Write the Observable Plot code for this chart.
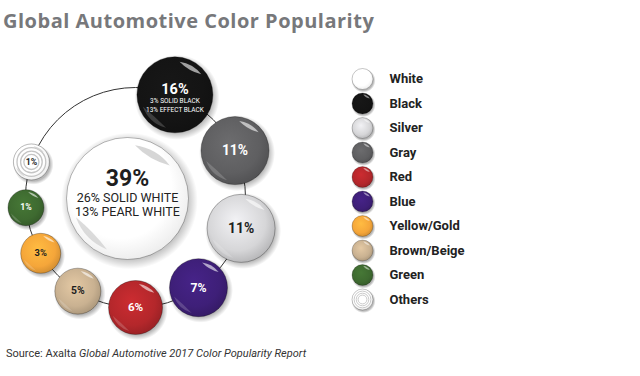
<!DOCTYPE html>
<html><head><meta charset="utf-8">
<script src="https://cdn.jsdelivr.net/npm/d3@7"></script>
<script src="https://cdn.jsdelivr.net/npm/@observablehq/plot@0.6"></script>
<style>
html,body{margin:0;padding:0;background:#fff;}
body{width:640px;height:376px;overflow:hidden;font-family:Roboto,sans-serif;}
#title{height:38px;box-sizing:border-box;padding:11px 0 0 3px;font:700 20px/20px "Open Sans",sans-serif;color:#77787b;white-space:nowrap;letter-spacing:0.5px;}
#chart svg{display:block;}
#cap{margin-top:10px;padding-left:6px;font:400 11px/11px Roboto,sans-serif;color:#333;white-space:nowrap;}
</style></head>
<body>
<div id="title">Global Automotive Color Popularity</div>
<div id="chart"></div>
<div id="cap">Source: Axalta <i>Global Automotive 2017 Color Popularity Report</i></div>
<script>
// ---- data ----
const colorNames = ["White","Black","Silver","Gray","Red","Blue","Yellow/Gold","Brown/Beige","Green","Others"];
const shares = [39,16,11,11,6,7,3,5,1,1];
const ringOrder = ["Black","Gray","Silver","Blue","Red","Brown/Beige","Yellow/Gold","Green","Others"];
const whiteDetail = ["26% SOLID WHITE","13% PEARL WHITE"];
const blackDetail = ["3% SOLID BLACK","13% EFFECT BLACK"];

// ---- styles ----
const palette = ["#ffffff","#141414","#d6d6d8","#5f5f61","#b4272b","#3e1f78","#f5a63a","#c9b191","#3e6a30","#ffffff"];
const lightInk = new Set(["Black","Gray","Red","Blue","Green"]);

// ---- layout ----
const W = 640, H = 300;
const ring = {x: 135, y: 159, R: 110, start: -69, gap: 10};
const radius = d3.scaleLinear().domain([1,3,5,6,7,11,16,39]).range([18,20,23,27,29,34,38,61]);
const legend = {x: 362, y0: 40.5, step: 24.5, r: 10.5, tx: 389};

const share = new Map(colorNames.map((c,i)=>[c, shares[i]]));
let ang = ring.start*Math.PI/180;
const bubbles = [];
ringOrder.forEach((name,k)=>{
  const v = share.get(name), r = radius(v);
  if (k > 0) ang += 2*Math.asin((bubbles[k-1].r + r + ring.gap)/(2*ring.R));
  bubbles.push({name, value: v, r, x: ring.x + ring.R*Math.cos(ang), y: ring.y + ring.R*Math.sin(ang)});
});
const center = {name: "White", value: share.get("White"), r: radius(share.get("White")), x: ring.x - 8, y: ring.y + 1};
const all = [center, ...bubbles];
const blackB = bubbles.find(d=>d.name==="Black");
const legendItems = colorNames.map((name,i)=>({name, value: share.get(name), x: legend.x, y: legend.y0 + i*legend.step}));
const isPale = d => d.name==="White" || d.name==="Others";

// ---- custom symbols ----
const rad = size => Math.sqrt(size/Math.PI);
const scaledCircle = k => ({draw(ctx,size){const r=rad(size)*k; ctx.moveTo(r,0); ctx.arc(0,0,r,0,2*Math.PI);}});
const glint = (a0,a1,outer,inner) => ({draw(ctx,size){
  const r=rad(size), A0=a0*Math.PI/180, A1=a1*Math.PI/180, Am=(A0+A1)/2;
  ctx.moveTo(r*outer*Math.cos(A0), r*outer*Math.sin(A0));
  ctx.arc(0,0,r*outer,A0,A1);
  ctx.quadraticCurveTo(r*inner*Math.cos(Am), r*inner*Math.sin(Am), r*outer*Math.cos(A0), r*outer*Math.sin(A0));
  ctx.closePath();
}});
const rings = {draw(ctx,size){const r=rad(size); for (const k of [0.8,0.6,0.42]) {ctx.moveTo(r*k,0); ctx.arc(0,0,r*k,0,2*Math.PI);}}};

const pos = {x: "x", y: "y"};
const chart = Plot.plot({
  width: W, height: H, margin: 0,
  x: {domain: [0, W], range: [0, W], axis: null},
  y: {domain: [0, H], range: [0, H], axis: null},
  r: {type: "linear", domain: radius.domain(), range: radius.range()},
  color: {domain: colorNames, range: colorNames.map((_,i)=>`url(#g${i})`)},
  style: {background: "transparent", fontFamily: "Roboto, sans-serif", overflow: "visible"},
  marks: [
    // connecting ring
    Plot.dot([ring], {...pos, r: ring.R, fill: "none", stroke: "#333", strokeWidth: 1}),
    // shadows
    Plot.dot(all, {...pos, r: "value", symbol: scaledCircle(1.12), fill: "url(#shadow)", dx: 2, dy: 2.5}),
    Plot.dot(legendItems, {...pos, r: legend.r, symbol: scaledCircle(1.15), fill: "url(#shadow)", dx: 1, dy: 1.5}),
    // bubbles
    Plot.dot(all, {...pos, r: "value", fill: "name", stroke: "rgba(0,0,0,0.28)", strokeWidth: 1}),
    Plot.dot(legendItems, {...pos, r: legend.r, fill: "name", stroke: "rgba(0,0,0,0.28)", strokeWidth: 0.8}),
    // concentric rings for Others
    Plot.dot(all.filter(d=>d.name==="Others"), {...pos, r: "value", symbol: rings, fill: "none", stroke: "#c4c4c4", strokeWidth: 1.3}),
    Plot.dot(legendItems.filter(d=>d.name==="Others"), {...pos, r: legend.r, symbol: rings, fill: "none", stroke: "#c4c4c4", strokeWidth: 0.9}),
    // glossy highlights
    Plot.dot(all.filter(d=>!isPale(d)), {...pos, r: "value", symbol: glint(-82,-38,0.88,0.72), fill: "#fff", fillOpacity: 0.6}),
    Plot.dot(all.filter(d=>!isPale(d)), {...pos, r: "value", symbol: glint(105,160,0.9,0.78), fill: "#fff", fillOpacity: 0.18}),
    Plot.dot(all.filter(isPale), {...pos, r: "value", symbol: glint(-82,-38,0.88,0.72), fill: "#d2d2d2", fillOpacity: 0.9}),
    Plot.dot(all.filter(isPale), {...pos, r: "value", symbol: glint(112,160,0.9,0.78), fill: "#d2d2d2", fillOpacity: 0.8}),
    Plot.dot(legendItems.filter(d=>!isPale(d)), {...pos, r: legend.r, symbol: glint(-85,-35,0.85,0.6), fill: "#fff", fillOpacity: 0.5}),
    // percentage labels
    Plot.text([center], {...pos, text: d=>d.value+"%", fontSize: 23, fontWeight: 700, fill: "#1e1e1e", dy: -20}),
    Plot.text([whiteDetail.join("\n")], {x: center.x, y: center.y, text: d=>d, fontSize: 12.5, lineHeight: 1.12, fill: "#222", dy: 6.5}),
    Plot.text([blackB], {...pos, text: d=>d.value+"%", fontSize: 14.5, fontWeight: 700, fill: "#fff", dy: -5}),
    Plot.text([blackDetail.join("\n")], {x: blackB.x, y: blackB.y, text: d=>d, fontSize: 6.5, lineHeight: 1.4, fill: "#fff", dy: 10}),
    Plot.text(bubbles.filter(d=>d.name!=="Black" && lightInk.has(d.name)), {...pos, text: d=>d.value+"%", fontSize: d=>3+0.32*d.r, fontWeight: 700, fill: "#fff"}),
    Plot.text(bubbles.filter(d=>!lightInk.has(d.name)), {...pos, text: d=>d.value+"%", fontSize: d=>3+0.32*d.r, fontWeight: 700, fill: "#1e1e1e"}),
    // legend labels
    Plot.text(legendItems, {x: legend.tx, y: "y", text: "name", textAnchor: "start", fontSize: 13, fontWeight: 700, fill: "#222"})
  ]
});

// gradient definitions referenced by the colour scale
const svg = d3.select(chart);
const defs = svg.insert("defs", ":first-child");
palette.forEach((c,i)=>{
  const g = defs.append("radialGradient").attr("id", `g${i}`).attr("cx","45%").attr("cy","42%").attr("r","60%").attr("fx","42%").attr("fy","38%");
  const base = d3.color(c);
  const pale = colorNames[i]==="White" || colorNames[i]==="Others";
  g.append("stop").attr("offset","0%").attr("stop-color", pale ? "#ffffff" : base.brighter(0.35).formatHex());
  g.append("stop").attr("offset","70%").attr("stop-color", c);
  g.append("stop").attr("offset","100%").attr("stop-color", pale ? "#ececec" : base.darker(0.45).formatHex());
});
const sh = defs.append("radialGradient").attr("id","shadow");
sh.append("stop").attr("offset","0%").attr("stop-color","#000").attr("stop-opacity",0.3);
sh.append("stop").attr("offset","82%").attr("stop-color","#000").attr("stop-opacity",0.28);
sh.append("stop").attr("offset","100%").attr("stop-color","#000").attr("stop-opacity",0);

document.getElementById("chart").appendChild(chart);
</script>
</body></html>
